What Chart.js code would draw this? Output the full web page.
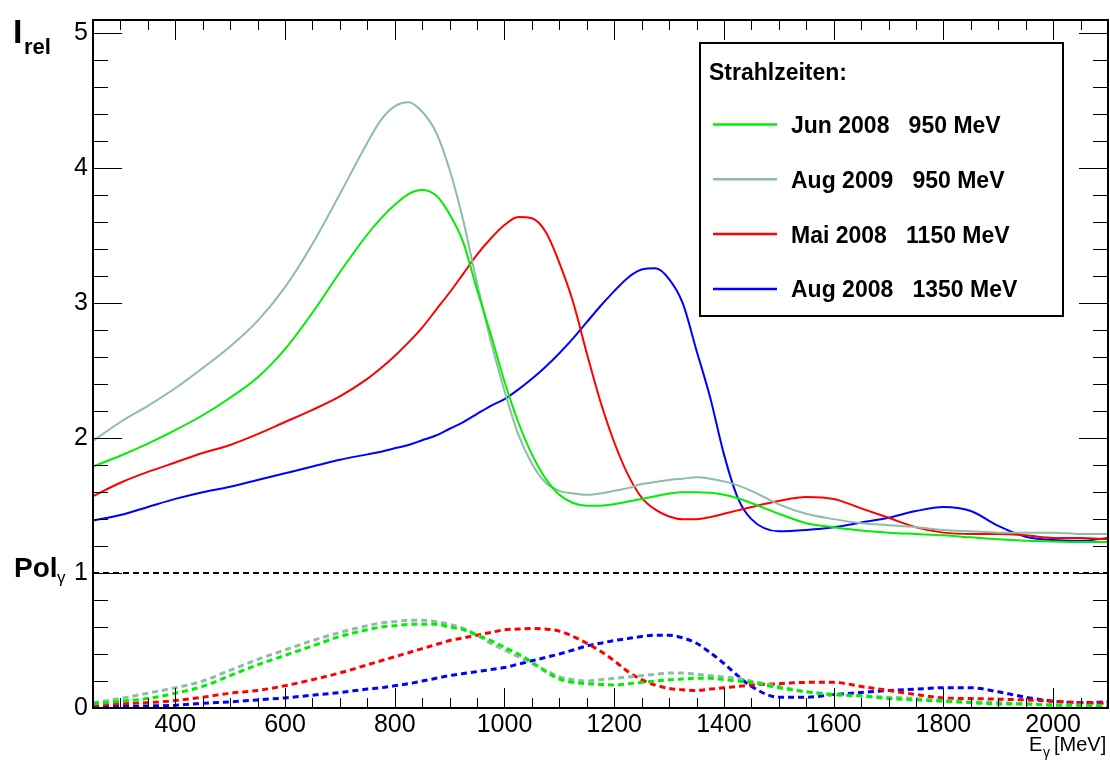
<!DOCTYPE html>
<html>
<head>
<meta charset="utf-8">
<title>Strahlzeiten</title>
<script src="https://cdn.jsdelivr.net/npm/chart.js@4.4.1/dist/chart.umd.min.js"></script>
<style>
  html, body { margin: 0; padding: 0; background: #fff; }
  #wrap { width: 1110px; height: 763px; }
</style>
</head>
<body>
<div id="wrap"><canvas id="spektrum" width="1110" height="763"></canvas></div>
<script>
// Photonenenergie E_gamma [MeV], im Peakbereich feiner abgetastet
const energies = [250, 300, 350, 400, 450, 500, 550, 600, 650, 700,
  750, 775, 800, 825, 850, 875, 900, 925, 950, 975,
  1000, 1025, 1050, 1075, 1100, 1125, 1150, 1175, 1200, 1225,
  1250, 1275, 1300, 1325, 1350, 1375, 1400, 1425, 1450,
  1500, 1550, 1600, 1650, 1700, 1750, 1800, 1850, 1900, 1950, 2000, 2050, 2100];

// relative Intensitaet I_rel
const relJun2008 = [1.79, 1.87, 1.96, 2.06, 2.17, 2.30, 2.45, 2.66, 2.93, 3.23,
  3.51, 3.63, 3.73, 3.81, 3.84, 3.80, 3.66, 3.45, 3.10, 2.77,
  2.42, 2.12, 1.88, 1.70, 1.58, 1.52, 1.50, 1.50, 1.51, 1.53,
  1.55, 1.57, 1.59, 1.60, 1.60, 1.595, 1.58, 1.555, 1.52,
  1.44, 1.37, 1.34, 1.315, 1.30, 1.29, 1.28, 1.265, 1.25, 1.24, 1.235, 1.23, 1.23];
const relAug2009 = [1.98, 2.12, 2.24, 2.37, 2.52, 2.68, 2.87, 3.12, 3.44, 3.81,
  4.19, 4.36, 4.46, 4.49, 4.42, 4.27, 3.99, 3.61, 3.15, 2.72,
  2.35, 2.03, 1.81, 1.67, 1.61, 1.59, 1.58, 1.59, 1.61, 1.63,
  1.66, 1.675, 1.69, 1.70, 1.71, 1.70, 1.68, 1.65, 1.61,
  1.51, 1.44, 1.40, 1.37, 1.355, 1.34, 1.32, 1.31, 1.30, 1.30, 1.30, 1.29, 1.29];
const relMai2008 = [1.57, 1.67, 1.75, 1.82, 1.89, 1.95, 2.03, 2.12, 2.21, 2.31,
  2.44, 2.52, 2.61, 2.71, 2.82, 2.95, 3.08, 3.22, 3.36, 3.48,
  3.58, 3.64, 3.63, 3.53, 3.30, 3.01, 2.63, 2.27, 1.97, 1.73,
  1.56, 1.47, 1.42, 1.40, 1.40, 1.415, 1.44, 1.465, 1.49,
  1.535, 1.565, 1.55, 1.48, 1.41, 1.34, 1.30, 1.29, 1.29, 1.28, 1.26, 1.26, 1.25];
const relAug2008 = [1.39, 1.43, 1.49, 1.55, 1.60, 1.64, 1.69, 1.74, 1.79, 1.84,
  1.88, 1.90, 1.925, 1.95, 1.985, 2.02, 2.07, 2.12, 2.18, 2.24,
  2.29, 2.36, 2.44, 2.53, 2.63, 2.74, 2.86, 2.98, 3.09, 3.19,
  3.25, 3.26, 3.18, 3.00, 2.65, 2.30, 1.88, 1.56, 1.40,
  1.31, 1.32, 1.34, 1.375, 1.41, 1.46, 1.49, 1.46, 1.35, 1.27, 1.245, 1.24, 1.26];

// Polarisationsgrad Pol_gamma
const polJun2008 = [0.03, 0.05, 0.07, 0.11, 0.16, 0.24, 0.32, 0.39, 0.46, 0.53,
  0.58, 0.60, 0.61, 0.62, 0.62, 0.62, 0.60, 0.58, 0.54, 0.50,
  0.45, 0.40, 0.34, 0.27, 0.215, 0.19, 0.18, 0.175, 0.17, 0.18,
  0.19, 0.20, 0.21, 0.215, 0.22, 0.22, 0.21, 0.20, 0.19,
  0.15, 0.12, 0.10, 0.09, 0.07, 0.06, 0.05, 0.04, 0.03, 0.03, 0.02, 0.02, 0.015];
const polAug2009 = [0.04, 0.07, 0.11, 0.15, 0.20, 0.28, 0.36, 0.43, 0.50, 0.56,
  0.61, 0.63, 0.64, 0.65, 0.65, 0.64, 0.62, 0.59, 0.54, 0.48,
  0.43, 0.38, 0.33, 0.28, 0.23, 0.21, 0.20, 0.21, 0.22, 0.23,
  0.24, 0.25, 0.26, 0.26, 0.25, 0.24, 0.23, 0.22, 0.20,
  0.16, 0.12, 0.10, 0.09, 0.08, 0.07, 0.055, 0.045, 0.04, 0.03, 0.025, 0.02, 0.015];
const polMai2008 = [0.02, 0.03, 0.04, 0.055, 0.08, 0.11, 0.13, 0.165, 0.21, 0.26,
  0.32, 0.35, 0.38, 0.41, 0.44, 0.47, 0.50, 0.52, 0.54, 0.56,
  0.58, 0.585, 0.59, 0.585, 0.57, 0.53, 0.48, 0.42, 0.35, 0.27,
  0.21, 0.17, 0.145, 0.135, 0.13, 0.14, 0.15, 0.16, 0.17,
  0.18, 0.19, 0.19, 0.16, 0.13, 0.10, 0.075, 0.07, 0.065, 0.06, 0.05, 0.04, 0.035];
const polAug2008 = [0.01, 0.012, 0.015, 0.02, 0.035, 0.045, 0.06, 0.075, 0.095, 0.115,
  0.14, 0.15, 0.165, 0.18, 0.20, 0.22, 0.24, 0.255, 0.27, 0.285,
  0.30, 0.325, 0.35, 0.375, 0.40, 0.43, 0.46, 0.48, 0.50, 0.515,
  0.53, 0.54, 0.54, 0.52, 0.48, 0.41, 0.33, 0.24, 0.16,
  0.08, 0.08, 0.10, 0.115, 0.13, 0.14, 0.15, 0.15, 0.12, 0.08, 0.05, 0.04, 0.045];

// Referenzlinie Pol = 1
const polMax = [1, 1];

// Achsenbeschriftung
const xTickLabels = [400, 600, 800, 1000, 1200, 1400, 1600, 1800, 2000];
const yTickLabels = [0, 1, 2, 3, 4, 5];

const runs = [
  { label: 'Jun 2008   950 MeV',  color: '#00ee00', rel: relJun2008, pol: polJun2008 },
  { label: 'Aug 2009   950 MeV',  color: '#8cbea5', rel: relAug2009, pol: polAug2009 },
  { label: 'Mai 2008   1150 MeV', color: '#ff0000', rel: relMai2008, pol: polMai2008 },
  { label: 'Aug 2008   1350 MeV', color: '#0000ff', rel: relAug2008, pol: polAug2008 }
];

const FONT = '"Liberation Sans", Arial, Helvetica, sans-serif';
Chart.defaults.font.family = FONT;
Chart.defaults.color = '#000';

function pts(vals) {
  return energies.map((e, i) => ({ x: e, y: vals[i] }));
}

const datasets = [];
runs.forEach(r => {
  datasets.push({
    label: r.label, data: pts(r.rel), borderColor: r.color, borderWidth: 2,
    pointRadius: 0, cubicInterpolationMode: 'monotone', fill: false, isRun: true
  });
});
runs.forEach(r => {
  datasets.push({
    label: r.label + ' Pol', data: pts(r.pol), borderColor: r.color, borderWidth: 3,
    borderDash: [6, 4], pointRadius: 0, cubicInterpolationMode: 'monotone', fill: false
  });
});
datasets.push({
  label: 'Pol = 1',
  data: [{ x: energies[0], y: polMax[0] }, { x: energies[energies.length - 1], y: polMax[1] }],
  borderColor: '#000', borderWidth: 2, borderDash: [6, 4], pointRadius: 0, fill: false
});

// ROOT-artiger Rahmen: Ticks nach innen, Achsentitel, Legende
const rootFrame = {
  id: 'rootFrame',
  afterDatasetsDraw(chart) {
    const { ctx, chartArea: a, scales: { x, y } } = chart;
    ctx.save();
    ctx.strokeStyle = '#000';
    ctx.lineWidth = 1;

    for (let e = 250; e <= 2100; e += 50) {
      const px = Math.round(x.getPixelForValue(e)) + 0.5;
      const len = e % 200 === 0 ? 20 : 10;
      ctx.beginPath();
      ctx.moveTo(px, a.bottom); ctx.lineTo(px, a.bottom - len);
      ctx.moveTo(px, a.top); ctx.lineTo(px, a.top + len);
      ctx.stroke();
    }
    for (let k = 0; k <= 25; k++) {
      const py = Math.round(y.getPixelForValue(k * 0.2)) + 0.5;
      const len = k % 5 === 0 ? 29 : 15;
      ctx.beginPath();
      ctx.moveTo(a.left, py); ctx.lineTo(a.left + len, py);
      ctx.moveTo(a.right, py); ctx.lineTo(a.right - len, py);
      ctx.stroke();
    }

    ctx.lineWidth = 2;
    ctx.strokeRect(a.left, a.top, a.right - a.left, a.bottom - a.top);

    // Achsentitel
    ctx.fillStyle = '#000';
    ctx.textBaseline = 'alphabetic';
    ctx.textAlign = 'left';
    ctx.font = 'bold 34px ' + FONT;
    ctx.fillText('I', 13, 43);
    ctx.font = 'bold 22px ' + FONT;
    ctx.fillText('rel', 24, 54);
    ctx.font = 'bold 28px ' + FONT;
    ctx.fillText('Pol', 14, 577);
    ctx.font = '17px ' + FONT;
    ctx.fillText('\u03b3', 57, 583);
    ctx.font = '20px ' + FONT;
    ctx.fillText('E', 1029, 751);
    ctx.font = '14px ' + FONT;
    ctx.fillText('\u03b3', 1043, 757);
    ctx.font = '20px ' + FONT;
    ctx.fillText('[MeV]', 1054, 751);

    // Legende
    const lx = 700, ly = 43, lw = 363, lh = 273;
    ctx.fillStyle = '#fff';
    ctx.fillRect(lx, ly, lw, lh);
    ctx.lineWidth = 2;
    ctx.strokeStyle = '#000';
    ctx.strokeRect(lx, ly, lw, lh);
    ctx.fillStyle = '#000';
    ctx.font = 'bold 23px ' + FONT;
    ctx.fillText('Strahlzeiten:', 709, 80);
    chart.data.datasets.filter(d => d.isRun).forEach((d, i) => {
      const yy = 124.5 + i * 54.8;
      ctx.strokeStyle = d.borderColor;
      ctx.lineWidth = 2.5;
      ctx.beginPath();
      ctx.moveTo(713, yy); ctx.lineTo(777, yy);
      ctx.stroke();
      ctx.fillText(d.label, 791, yy + 8.5);
    });
    ctx.restore();
  }
};

new Chart(document.getElementById('spektrum'), {
  type: 'line',
  data: { datasets },
  options: {
    responsive: false,
    animation: false,
    layout: { padding: { top: 11, right: 2, left: 0, bottom: 0 } },
    plugins: { legend: { display: false }, tooltip: { enabled: false } },
    scales: {
      x: {
        type: 'linear', min: 250, max: 2100,
        grid: { display: false, drawTicks: false },
        border: { display: false },
        ticks: { padding: 2, font: { size: 25 }, color: '#000', maxRotation: 0, autoSkip: false,
                 callback: v => String(v) },
        afterBuildTicks: s => { s.ticks = xTickLabels.map(v => ({ value: v })); },
        afterFit: s => { s.height = 55; }
      },
      y: {
        min: 0, max: 5.1,
        grid: { display: false, drawTicks: false },
        border: { display: false },
        ticks: { padding: 5, font: { size: 25 }, color: '#000', autoSkip: false,
                 callback: v => String(v) },
        afterBuildTicks: s => { s.ticks = yTickLabels.map(v => ({ value: v })); },
        afterFit: s => { s.width = 93; }
      }
    }
  },
  plugins: [rootFrame]
});
</script>
</body>
</html>
